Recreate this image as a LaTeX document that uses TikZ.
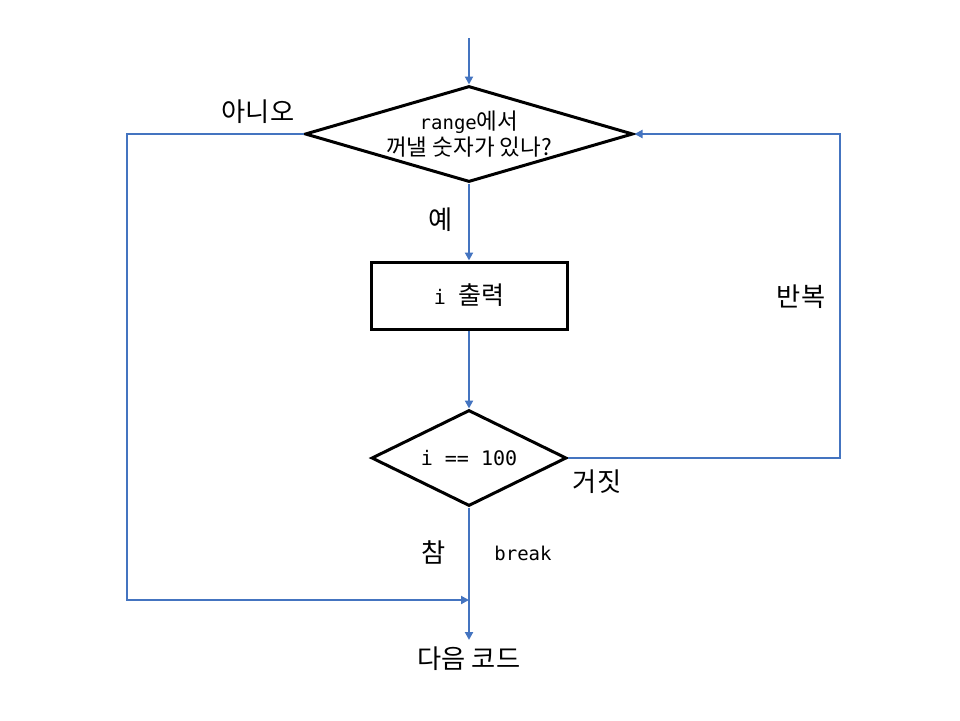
\documentclass[tikz,border=0pt]{standalone}
\usepackage{fontspec}
\setmainfont{Noto Sans CJK KR}[Scale=1.25]
\newfontfamily\codefont{DejaVu Sans Mono}
\usetikzlibrary{shapes.geometric,arrows.meta}
\definecolor{flowblue}{RGB}{68,116,192}
\tikzset{
  decision/.style={diamond,draw=black,line width=3pt,fill=white,inner sep=0pt,align=center},
  process/.style={rectangle,draw=black,line width=3pt,inner sep=0pt,align=center},
  flow/.style={draw=flowblue,line width=2.7pt,-{Triangle[length=8pt,width=8pt]}},
  label/.style={inner sep=0pt,font=\fontsize{21}{24}\selectfont}
}
\begin{document}
\begin{tikzpicture}[x=1pt,y=-1pt]
      \useasboundingbox (0,0) rectangle (960,720);
      \coordinate (start) at (469,38);
      \node[decision,minimum width=328pt,minimum height=96pt,aspect=3.4,
        font=\fontsize{18}{26}\selectfont] (d1) at (469,134)
        {{\codefont\fontsize{19}{26}\selectfont range}에서\\꺼낼 숫자가 있나?};
      \node[process,minimum width=196pt,minimum height=67pt,
        font=\fontsize{20}{24}\selectfont] (print) at (469,295.5)
        {{\codefont i }출력};
      \node[decision,minimum width=195pt,minimum height=96pt,aspect=2,
        font=\fontsize{20}{24}\selectfont] (d2) at (469,458)
        {\codefont i == 100};
      \coordinate (loop) at (840,458);
      \coordinate (skip) at (127,600);
      \coordinate (merge) at (469,600);
      \coordinate (nextin) at (469,640);
      \node[label] (next) at (469,659) {다음 코드};
      \node[label] (no) at (258,112) {아니오};
      \node[label] (yes) at (441,220) {예};
      \node[label] (again) at (801,297) {반복};
      \node[label] (false) at (597,482) {거짓};
      \node[label] (true) at (434,552) {참};
      \node[label,font=\codefont\fontsize{19}{24}\selectfont] (brk) at (523,553) {break};
      \begin{scope}[flow]
        \draw (start) -- (d1.north);
        \draw (d1.south) -- (print.north);
        \draw (print.south) -- (d2.north);
        \draw (d2.south) -- (nextin);
        \draw (d2.east) -- (loop) |- (d1.east);
        \draw (d1.west) -| (skip) -- (merge);
      \end{scope}
    \end{tikzpicture}
\end{document}
